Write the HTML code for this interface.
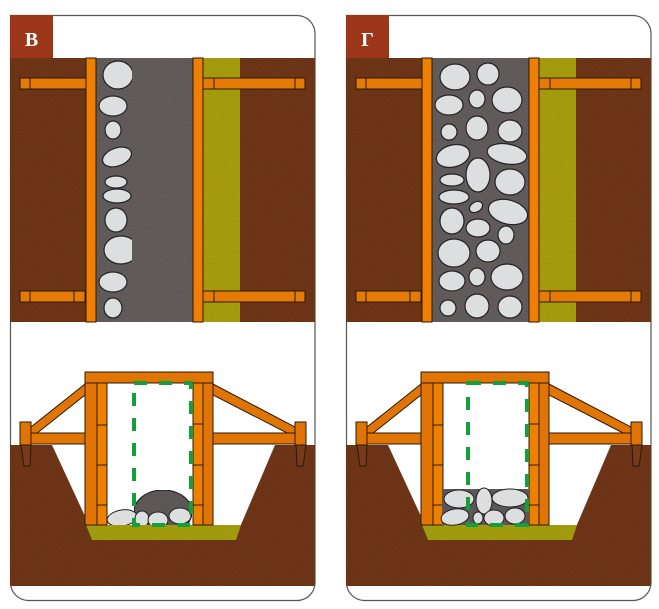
<!DOCTYPE html>
<html><head><meta charset="utf-8"><style>
html,body{margin:0;padding:0;background:#fff;width:659px;height:609px;overflow:hidden}
svg{display:block}
</style></head><body>
<svg width="659" height="609" viewBox="0 0 659 609" xmlns="http://www.w3.org/2000/svg">
<defs>
<filter id="tx" x="0" y="0" width="100%" height="100%">
<feTurbulence type="fractalNoise" baseFrequency="0.9" numOctaves="2" seed="3" result="n"/>
<feColorMatrix in="n" type="matrix" values="0 0 0 0 0  0 0 0 0 0  0 0 0 0 0  0 0 0 0.35 0" result="a"/>
<feComposite in="a" in2="SourceGraphic" operator="in" result="b"/>
<feMerge><feMergeNode in="SourceGraphic"/><feMergeNode in="b"/></feMerge>
</filter>
<g id="frame">
  <path d="M10.5,15.5 H297 A18,18 0 0 1 315,33.5 V582 A18,18 0 0 1 297,600.5 H28 A18,18 0 0 1 10.5,582 Z" fill="#fff" stroke="#555" stroke-width="1.2"/>
  <rect x="10" y="58" width="305" height="264" fill="#773a1b" filter="url(#tx)"/>
  <rect x="10" y="15" width="43" height="43" fill="#9b3619"/>
  <rect x="10" y="445" width="305" height="141" fill="#773a1b" filter="url(#tx)"/>
  <polygon points="52,445 275,445 240,527 90,527" fill="#fff"/>
  <polygon points="86,525 241,525 236,540 92,540" fill="#b0a818" filter="url(#tx)"/>
</g>
<g id="topwood" stroke="#2a1a0a" stroke-width="1" fill="#e57a06">
  <rect x="203" y="58" width="37" height="264" fill="#b2a818" stroke="none" filter="url(#tx)"/>
  <rect x="20" y="78" width="76" height="11"/><line x1="30" y1="78" x2="30" y2="89"/>
  <rect x="203" y="78" width="102" height="11"/><line x1="214" y1="78" x2="214" y2="89"/><line x1="295" y1="78" x2="295" y2="89"/>
  <rect x="20" y="291" width="65" height="11"/><line x1="30" y1="291" x2="30" y2="302"/><line x1="74" y1="291" x2="74" y2="302"/>
  <rect x="203" y="291" width="102" height="11"/><line x1="214" y1="291" x2="214" y2="302"/><line x1="295" y1="291" x2="295" y2="302"/>
  <rect x="86" y="58" width="10" height="264" fill="#f07f00"/>
  <rect x="193" y="58" width="10" height="264" fill="#f07f00"/>
</g>
<g id="botwood" stroke="#2a1a0a" stroke-width="1" fill="#e07506">
  <polygon points="85,384 31,427 31,438 85,395"/>
  <polygon points="213,384 295,427 295,437 213,395"/>
  <rect x="31" y="433" width="54" height="11"/>
  <rect x="213" y="433" width="83" height="11"/>
  <rect x="20" y="422" width="11" height="23"/>
  <polygon points="21,445 31,445 30,466 24,466" fill="#773a1b"/>
  <rect x="295" y="422" width="11" height="23"/>
  <polygon points="296,445 306,445 303,466 297,466" fill="#773a1b"/>
  <rect x="85" y="383" width="12" height="142"/>
  <rect x="97" y="383" width="10" height="142" fill="#ee8000"/>
  <line x1="97" y1="425" x2="107" y2="425"/><line x1="97" y1="465" x2="107" y2="465"/><line x1="97" y1="505" x2="107" y2="505"/>
  <rect x="193" y="383" width="10" height="142" fill="#ee8000"/>
  <line x1="193" y1="424" x2="203" y2="424"/><line x1="193" y1="465" x2="203" y2="465"/><line x1="193" y1="505" x2="203" y2="505"/>
  <rect x="203" y="383" width="10" height="142"/>
  <rect x="85" y="372" width="128" height="11"/>
</g>
</defs>

<use href="#frame"/>
<rect x="96" y="58" width="97" height="264" fill="#6a6464" filter="url(#tx)"/>
<g fill="#dcdedf" stroke="#222" stroke-width="1.2">
<clipPath id="c1"><rect x="96" y="58" width="36" height="264"/></clipPath>
<g clip-path="url(#c1)">
<ellipse cx="118" cy="75" rx="15" ry="14"/>
<ellipse cx="113" cy="106" rx="14" ry="10"/>
<ellipse cx="113" cy="130" rx="8" ry="9"/>
<ellipse cx="117" cy="157" rx="15" ry="9" transform="rotate(-20 117 157)"/>
<ellipse cx="116" cy="182" rx="11" ry="6"/>
<ellipse cx="117" cy="196" rx="14" ry="7"/>
<ellipse cx="116" cy="220" rx="11" ry="12"/>
<ellipse cx="121" cy="250" rx="17" ry="14"/>
<ellipse cx="113" cy="282" rx="14" ry="10"/>
<ellipse cx="113" cy="308" rx="9" ry="10"/>
</g>
</g>
<use href="#topwood"/>
<text x="31.5" y="46" font-family="Liberation Serif, serif" font-weight="bold" font-size="20" fill="#fff" text-anchor="middle">В</text>
<use href="#botwood"/>
<clipPath id="c2"><rect x="107" y="470" width="86" height="55"/></clipPath>
<g clip-path="url(#c2)" stroke="#222" stroke-width="1">
<ellipse cx="163" cy="512" rx="29" ry="22" fill="#666060" filter="url(#tx)"/>
<g fill="#dcdedf">
<ellipse cx="122" cy="518" rx="15" ry="8" transform="rotate(-10 122 518)"/>
<ellipse cx="142" cy="519" rx="7" ry="8"/>
<ellipse cx="158" cy="520" rx="10" ry="8"/>
<ellipse cx="180" cy="516" rx="11" ry="8"/>
</g>
</g>
<rect x="134" y="383" width="57" height="142" fill="none" stroke="#13a03c" stroke-width="4" stroke-dasharray="13,12"/>

<g transform="translate(336 0)">
<use href="#frame"/>
<rect x="96" y="58" width="97" height="264" fill="#6a6464" filter="url(#tx)"/>
<g fill="#dcdedf" stroke="#222" stroke-width="1.2" transform="translate(-336 0)">
<ellipse cx="455" cy="77" rx="15" ry="13"/>
<ellipse cx="488" cy="74" rx="11" ry="11"/>
<ellipse cx="449" cy="105" rx="14" ry="10"/>
<ellipse cx="477" cy="99" rx="8" ry="9"/>
<ellipse cx="507" cy="100" rx="15" ry="13"/>
<ellipse cx="449" cy="132" rx="8" ry="8"/>
<ellipse cx="477" cy="128" rx="11" ry="12"/>
<ellipse cx="510" cy="131" rx="12" ry="11"/>
<ellipse cx="453" cy="156" rx="17" ry="11" transform="rotate(-15 453 156)"/>
<ellipse cx="507" cy="154" rx="20" ry="10" transform="rotate(10 507 154)"/>
<ellipse cx="478" cy="175" rx="12" ry="17"/>
<ellipse cx="452" cy="180" rx="12" ry="6"/>
<ellipse cx="510" cy="182" rx="15" ry="13"/>
<ellipse cx="454" cy="197" rx="15" ry="7"/>
<ellipse cx="476" cy="207" rx="7" ry="5" transform="rotate(-30 476 207)"/>
<ellipse cx="508" cy="212" rx="20" ry="12" transform="rotate(15 508 212)"/>
<ellipse cx="452" cy="221" rx="12" ry="13"/>
<ellipse cx="478" cy="228" rx="12" ry="9"/>
<ellipse cx="506" cy="235" rx="8" ry="9"/>
<ellipse cx="454" cy="253" rx="16" ry="14"/>
<ellipse cx="488" cy="251" rx="12" ry="11"/>
<ellipse cx="452" cy="281" rx="13" ry="10"/>
<ellipse cx="477" cy="277" rx="8" ry="9"/>
<ellipse cx="507" cy="277" rx="16" ry="13"/>
<ellipse cx="448" cy="308" rx="8" ry="8"/>
<ellipse cx="477" cy="306" rx="12" ry="12"/>
<ellipse cx="510" cy="307" rx="12" ry="11"/>
</g>
<use href="#topwood"/>
<text x="31.5" y="46" font-family="Liberation Serif, serif" font-weight="bold" font-size="20" fill="#fff" text-anchor="middle">Г</text>
<use href="#botwood"/>
<rect x="106" y="489" width="87" height="36" fill="#666060" filter="url(#tx)"/>
<g fill="#dcdedf" stroke="#222" stroke-width="1" transform="translate(-336 0)">
<ellipse cx="459" cy="499" rx="15" ry="9"/>
<ellipse cx="484" cy="501" rx="8" ry="13"/>
<ellipse cx="510" cy="498" rx="18" ry="9"/>
<ellipse cx="455" cy="517" rx="14" ry="8" transform="rotate(-10 455 517)"/>
<ellipse cx="478" cy="518" rx="5" ry="6"/>
<ellipse cx="494" cy="518" rx="10" ry="8"/>
<ellipse cx="515" cy="516" rx="10" ry="8"/>
</g>
<rect x="132" y="383" width="59" height="142" fill="none" stroke="#13a03c" stroke-width="4" stroke-dasharray="13,12"/>
</g>
</svg>
</body></html>
